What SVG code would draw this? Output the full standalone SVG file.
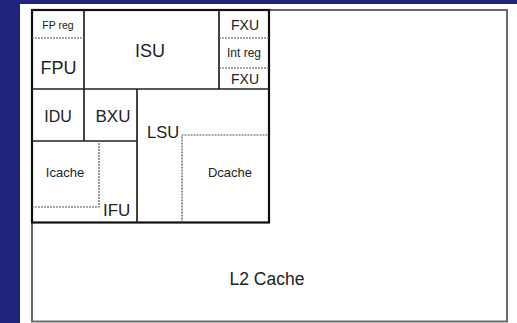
<svg xmlns="http://www.w3.org/2000/svg" width="517" height="323" viewBox="0 0 517 323">
<style>
text{font-family:"Liberation Sans",Arial,sans-serif;fill:#222}
.solid{stroke:#222;stroke-width:1.7;fill:none}
.dash{stroke:#555;stroke-width:1.2;stroke-dasharray:2 1;fill:none}
.c{text-anchor:middle}
</style>
<rect x="0" y="0" width="517" height="323" fill="#22227f"/>
<rect x="20" y="4" width="497" height="319" fill="#ffffff"/>
<g id="L2">
<rect x="32" y="10" width="475" height="311.5" fill="none" stroke="#6a6a6a" stroke-width="2"/>
<text class="c" x="267" y="285" font-size="17.5">L2 Cache</text>
</g>
<g id="core-frame">
<rect x="32" y="10" width="237" height="212.5" fill="none" stroke="#111" stroke-width="2.2"/>
<path class="solid" d="M84 10V141M32 89H269M219 10V89M137 89V222.5M32 141H137"/>
</g>
<g id="FPreg"><path class="dash" d="M32 38H84"/><text class="c" x="58" y="28.5" font-size="10.5">FP reg</text></g>
<g id="FPU"><text class="c" x="58.5" y="74" font-size="18">FPU</text></g>
<g id="ISU"><text class="c" x="150" y="56.5" font-size="18">ISU</text></g>
<g id="FXU1"><text class="c" x="245" y="29.5" font-size="14">FXU</text></g>
<g id="Intreg"><path class="dash" d="M219 38H269M219 68H269"/><text class="c" x="244" y="57" font-size="12">Int reg</text></g>
<g id="FXU2"><text class="c" x="245" y="84" font-size="14">FXU</text></g>
<g id="IDU"><text class="c" x="58" y="122" font-size="16">IDU</text></g>
<g id="BXU"><text class="c" x="113" y="122" font-size="17">BXU</text></g>
<g id="LSU"><text x="147" y="138" font-size="16.5">LSU</text></g>
<g id="Dcache"><path class="dash" d="M182 222.5V135H269"/><text class="c" x="230" y="177" font-size="13">Dcache</text></g>
<g id="Icache"><path class="dash" d="M32 207H99V141"/><text class="c" x="65" y="177" font-size="13">Icache</text></g>
<g id="IFU"><text x="103" y="216" font-size="17">IFU</text></g>
<g id="connectors"/>
</svg>
